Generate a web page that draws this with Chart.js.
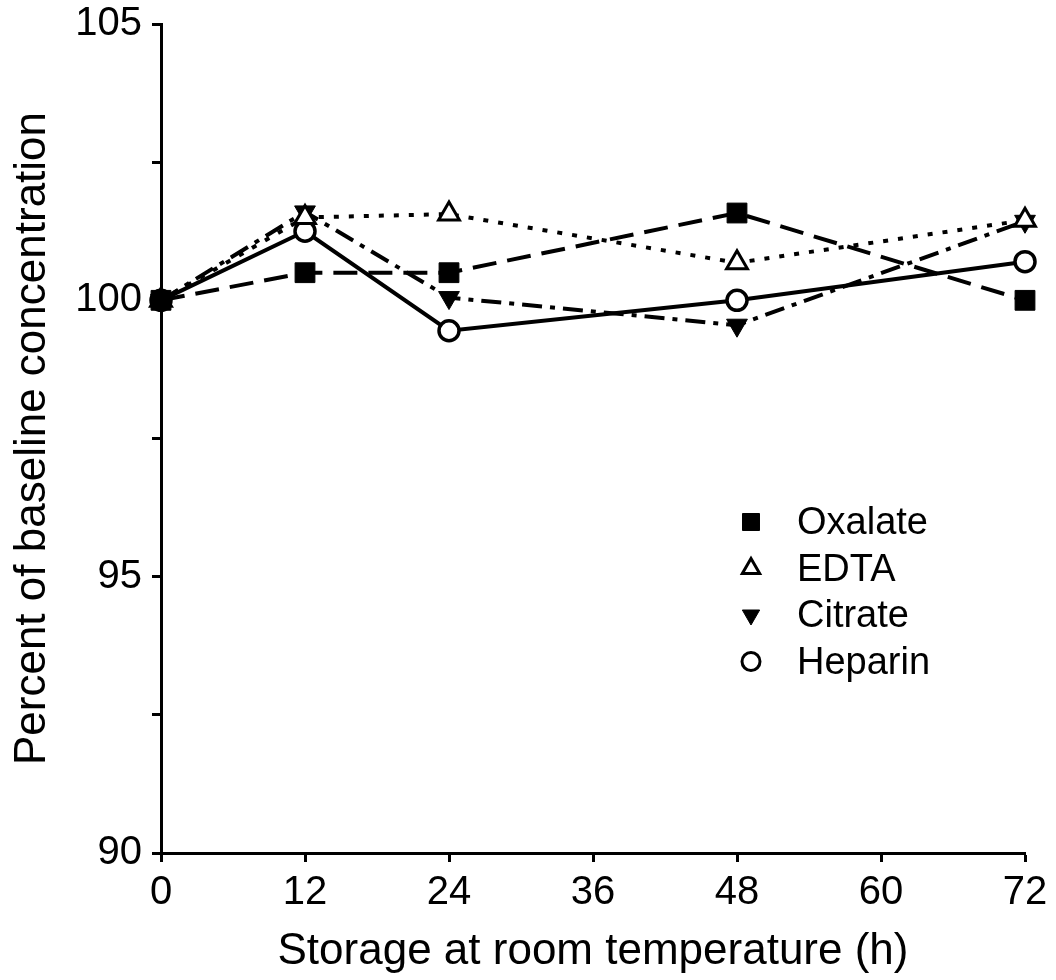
<!DOCTYPE html>
<html>
<head>
<meta charset="utf-8">
<title>Storage at room temperature</title>
<script src="https://cdn.jsdelivr.net/npm/chart.js@4/dist/chart.umd.min.js"></script>
<style>
  html, body { margin: 0; padding: 0; background: #fff; }
  #wrap { width: 1056px; height: 980px; }
</style>
</head>
<body>
<div id="wrap"><canvas id="chart" width="1056" height="980"></canvas></div>
<script>
// Data
const hours = [0, 12, 24, 48, 72];
const oxalate = [100, 100.5, 100.5, 101.58, 100];
const edta = [100, 101.5, 101.56, 100.68, 101.45];
const citrate = [100, 101.6, 100.05, 99.55, 101.43];
const heparin = [100, 101.25, 99.45, 100, 100.7];
const xTicks = [0, 12, 24, 36, 48, 60, 72];
const yLabels = [90, 95, 100, 105];

const FONT = 'Liberation Sans, Arial, Helvetica, sans-serif';

function points(ys) {
    return hours.map((h, i) => ({ x: h, y: ys[i] }));
}

// Legend drawn inside the plot area, like the original figure
const insideLegend = {
    id: 'insideLegend',
    afterDraw(chart) {
        const ctx = chart.ctx;
        const area = chart.chartArea;
        const markerX = area.left + 590;
        const textX = area.left + 636;
        const firstY = area.top + 498;
        const rowH = 46.5;
        ctx.save();
        ctx.font = '38px ' + FONT;
        ctx.textBaseline = 'middle';
        ctx.textAlign = 'left';
        chart.data.datasets.forEach((ds, i) => {
            const y = firstY + i * rowH;
            ctx.fillStyle = ds.pointBackgroundColor;
            ctx.strokeStyle = '#000';
            ctx.lineWidth = ds.legendBorder;
            Chart.helpers.drawPoint(ctx, {
                pointStyle: ds.pointStyle,
                rotation: ds.pointRotation || 0,
                radius: ds.legendRadius,
                borderWidth: ds.legendBorder
            }, markerX, y);
            ctx.fillStyle = '#000';
            ctx.fillText(ds.label, textX, y + 2);
        });
        ctx.restore();
    }
};

const common = {
    borderColor: '#000',
    borderWidth: 4,
    pointBorderColor: '#000',
    tension: 0,
    clip: false
};

new Chart(document.getElementById('chart'), {
    type: 'line',
    data: {
        datasets: [
            Object.assign({}, common, {
                label: 'Oxalate',
                data: points(oxalate),
                borderDash: [24, 11],
                pointStyle: 'rect',
                pointRadius: 14,
                pointBorderWidth: 1,
                pointBackgroundColor: '#000',
                legendRadius: 12,
                legendBorder: 1
            }),
            Object.assign({}, common, {
                label: 'EDTA',
                data: points(edta),
                borderDash: [5, 10],
                pointStyle: 'triangle',
                pointRadius: 12,
                pointBorderWidth: 3,
                pointBackgroundColor: '#fff',
                legendRadius: 10,
                legendBorder: 3
            }),
            Object.assign({}, common, {
                label: 'Citrate',
                data: points(citrate),
                borderDash: [20, 8, 5, 8],
                pointStyle: 'triangle',
                pointRotation: 180,
                pointRadius: 12,
                pointBorderWidth: 1,
                pointBackgroundColor: '#000',
                legendRadius: 10,
                legendBorder: 1
            }),
            Object.assign({}, common, {
                label: 'Heparin',
                data: points(heparin),
                pointStyle: 'circle',
                pointRadius: 10,
                pointBorderWidth: 3.5,
                pointBackgroundColor: '#fff',
                legendRadius: 9,
                legendBorder: 3
            })
        ]
    },
    options: {
        responsive: false,
        animation: false,
        layout: {
            autoPadding: false,
            padding: { top: 24, right: 31, left: 0, bottom: 0 }
        },
        plugins: {
            legend: { display: false },
            tooltip: { enabled: false }
        },
        scales: {
            x: {
                type: 'linear',
                min: 0,
                max: 72,
                afterFit(scale) {
                    scale.height = 127;
                    scale.paddingLeft = 0;
                    scale.paddingRight = 0;
                },
                afterBuildTicks(scale) {
                    scale.ticks = xTicks.map(v => ({ value: v }));
                },
                border: { display: true, color: '#000', width: 3 },
                grid: {
                    drawOnChartArea: false,
                    drawTicks: true,
                    tickLength: 9,
                    tickColor: '#000',
                    tickWidth: 3
                },
                ticks: {
                    color: '#000',
                    padding: 7,
                    maxRotation: 0,
                    font: { family: FONT, size: 40 }
                },
                title: {
                    display: true,
                    text: 'Storage at room temperature (h)',
                    color: '#000',
                    padding: { top: 0, bottom: 2 },
                    font: { family: FONT, size: 44 }
                }
            },
            y: {
                min: 90,
                max: 105,
                afterFit(scale) {
                    scale.width = 161;
                    scale.paddingTop = 0;
                    scale.paddingBottom = 0;
                },
                border: { display: true, color: '#000', width: 3 },
                grid: {
                    drawOnChartArea: false,
                    drawTicks: true,
                    tickLength: 9,
                    tickColor: '#000',
                    tickWidth: 3
                },
                ticks: {
                    stepSize: 2.5,
                    color: '#000',
                    padding: 10,
                    font: { family: FONT, size: 40 },
                    callback: (v) => yLabels.includes(v) ? String(v) : ''
                },
                title: {
                    display: true,
                    text: 'Percent of baseline concentration',
                    color: '#000',
                    padding: { top: 6, bottom: 0 },
                    font: { family: FONT, size: 44 }
                }
            }
        }
    },
    plugins: [insideLegend]
});
</script>
</body>
</html>
